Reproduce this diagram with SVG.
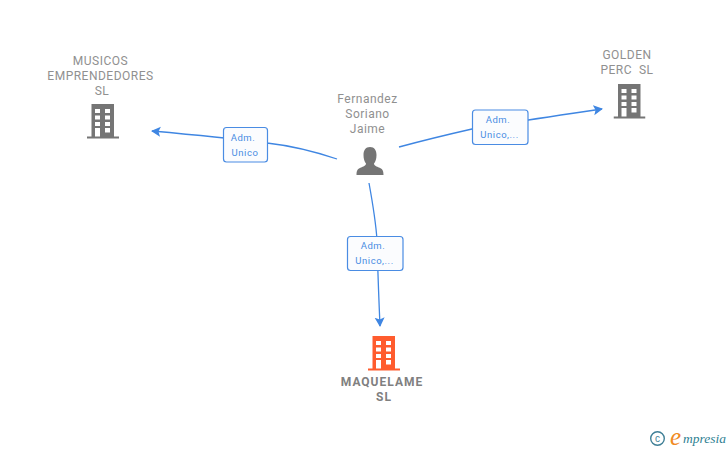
<svg xmlns="http://www.w3.org/2000/svg" width="728" height="450" viewBox="0 0 728 450">
<style>
.n{font-family:Roboto,"Liberation Sans",sans-serif;font-size:12px;fill:#909090;text-anchor:middle;letter-spacing:.5px;white-space:pre}
.b{font-weight:700;font-size:12px;fill:#808080;letter-spacing:1px}
.l{font-family:Roboto,"Liberation Sans",sans-serif;font-size:9.5px;fill:#4a8ce3;text-anchor:middle;letter-spacing:.55px}
.c{fill:none;stroke:#3f86e2;stroke-width:1.3;marker-end:url(#a)}
.r{fill:#fbfcfe;stroke:#4a8ce3;stroke-width:1.2}
</style>
<defs>
<marker id="a" markerUnits="userSpaceOnUse" markerWidth="12" markerHeight="12" refX="8.500" refY="5.500" orient="auto"><path d="M0 0.500L9.500 5.500L0 10.500L2 5.500Z" fill="#3f86e2"/></marker>
<symbol id="bld" width="32" height="35" viewBox="0 0 32 35"><path fill-rule="evenodd" d="M4.500 0H27V32.500H32V34.500H0V32.500H4.500ZM8 5V9H13V5ZM18 5V9H23V5ZM8 11.500V15.500H13V11.500ZM18 11.500V15.500H23V11.500ZM8 18V22H13V18ZM18 18V22H23V18ZM8 24V32.500H13V24ZM18 24V28.500H23V24Z"/></symbol>
</defs>
<g id="connectors">
<path class="c" d="M337 159C310 150 285 145 267 143Q240 139 152 131"/>
<path class="c" d="M399 147C425 140 450 134 472 129Q500 124 602 109"/>
<path class="c" d="M369 183C373 205 376 225 377 240Q378 280 380 326"/>
</g>
<g id="musicos"><text class="n"><tspan x="100.500" y="65">MUSICOS</tspan><tspan x="100.500" y="80">EMPRENDEDORES</tspan><tspan x="102" y="95">SL</tspan></text><use href="#bld" x="87" y="104" fill="#757575"/></g>
<g id="golden"><text class="n" xml:space="preserve"><tspan x="627" y="59">GOLDEN</tspan><tspan x="627" y="74">PERC  SL</tspan></text><use href="#bld" x="613.500" y="84" fill="#757575"/></g>
<g id="person"><text class="n"><tspan x="367.500" y="103">Fernandez</tspan><tspan x="367.500" y="118">Soriano</tspan><tspan x="367.500" y="133">Jaime</tspan></text><path fill="#757575" d="M370 147C374.500 147 376.500 150.500 376.500 155C376.500 159 375.500 161.500 374 163.500C374 166 377 166.500 379 167.500C382 168.500 383.500 170 383.500 175H356.500C356.500 170 358 168.500 361 167.500C363 166.500 366 166 366 163.500C364.500 161.500 363.500 159 363.500 155C363.500 150.500 365.500 147 370 147Z"/></g>
<g id="maquelame"><use href="#bld" x="368" y="336" fill="#ff5c2e"/><text class="n b"><tspan x="382" y="386">MAQUELAME</tspan><tspan x="384" y="401">SL</tspan></text></g>
<g id="label-1"><rect class="r" x="223.500" y="127.500" width="44" height="34.500" rx="3"/><text class="l"><tspan x="243" y="141">Adm.</tspan><tspan x="245" y="156">Unico</tspan></text></g>
<g id="label-2"><rect class="r" x="472.500" y="110" width="55.500" height="34.500" rx="3"/><text class="l"><tspan x="498" y="123">Adm.</tspan><tspan x="499.500" y="138">Unico,...</tspan></text></g>
<g id="label-3"><rect class="r" x="347.500" y="236.500" width="55.500" height="34" rx="3"/><text class="l"><tspan x="373" y="249">Adm.</tspan><tspan x="374.500" y="264">Unico,...</tspan></text></g>
<g id="logo"><circle cx="657.500" cy="438.500" r="6.800" fill="none" stroke="#3f7f96" stroke-width="1.400"/><text x="657.500" y="442" font-family="'Liberation Sans',sans-serif" font-size="10" fill="#3f7f96" text-anchor="middle">c</text><text x="670" y="445" font-family="'Liberation Serif',serif" font-style="italic" font-size="25" fill="#f08a24">e</text><text x="683" y="443" font-family="'Liberation Serif',serif" font-style="italic" font-size="13.500" fill="#2f7f92">mpresia</text></g>
</svg>
